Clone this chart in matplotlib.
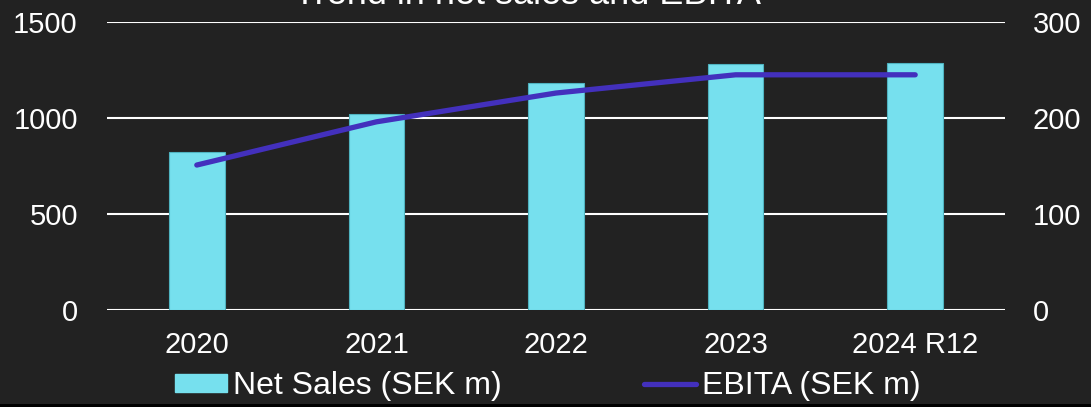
import matplotlib
matplotlib.use("Agg")
import matplotlib.pyplot as plt
from matplotlib.patches import Patch, Rectangle
from matplotlib.lines import Line2D
import numpy as np

# values
years = ["2020", "2021", "2022", "2023", "2024 R12"]
net_sales = [823, 1021, 1182, 1281, 1286]   # SEK m, left axis
ebita = [151, 196, 226, 245, 245]           # SEK m, right axis

BG = "#222222"
BAR = "#76e0ee"
BAR_EDGE = "#4fb3c0"
LINE = "#4330bd"

plt.rcParams.update({
    "font.family": ["Liberation Sans", "DejaVu Sans"],
    "font.size": 21,
    "text.color": "white",
})

fig = plt.figure(figsize=(10.91, 4.07), dpi=100, facecolor=BG)
ax = fig.add_axes([107/1091, 97/407, (1005-107)/1091, (310-22)/407])
ax.set_facecolor(BG)
ax2 = ax.twinx()

x = np.arange(len(years))
ax.bar(x, net_sales, width=0.31, color=BAR, edgecolor=BAR_EDGE, linewidth=0.8, zorder=3)
ax2.plot(x, ebita, color=LINE, linewidth=3.8, solid_capstyle="round",
         solid_joinstyle="round", zorder=4)

ax.set_xlim(-0.5, len(years) - 0.5)
ax.set_ylim(0, 1500)
ax.set_yticks([0, 500, 1000, 1500])
ax2.set_ylim(0, 300)
ax2.set_yticks([0, 100, 200, 300])
ax.set_xticks(x)
ax.set_xticklabels(years)

ax.yaxis.grid(True, color="white", linewidth=1.5, zorder=0)
ax.set_axisbelow(True)

for a in (ax, ax2):
    for s in a.spines.values():
        s.set_visible(False)
ax.tick_params(axis="y", length=0, pad=21, colors="white")
ax.tick_params(axis="x", length=0, pad=15, colors="white")
ax2.tick_params(axis="y", length=0, pad=20, colors="white")

# title sits partly above the canvas, as in the source
fig.text(527/1091, 1 - 4/407, "Trend in net sales and EBITA", ha="center",
         va="baseline", fontsize=26, color="white")

handles = [Patch(facecolor=BAR, edgecolor=BAR, label="Net Sales (SEK m)"),
           Line2D([], [], color=LINE, linewidth=3.8, solid_capstyle="round",
                  label="EBITA (SEK m)")]
fig.legend(handles=handles, loc="center", bbox_to_anchor=(548/1091, 21/407),
           ncol=2, frameon=False, fontsize=23, handlelength=1.63,
           handleheight=0.5, handletextpad=0.19, columnspacing=4.45,
           labelcolor="white", borderpad=0)

fig.add_artist(Rectangle((0, 0), 1, 3/407, transform=fig.transFigure,
                         facecolor="black", edgecolor="none"))

fig.savefig("out.png", dpi=100, facecolor=BG)
